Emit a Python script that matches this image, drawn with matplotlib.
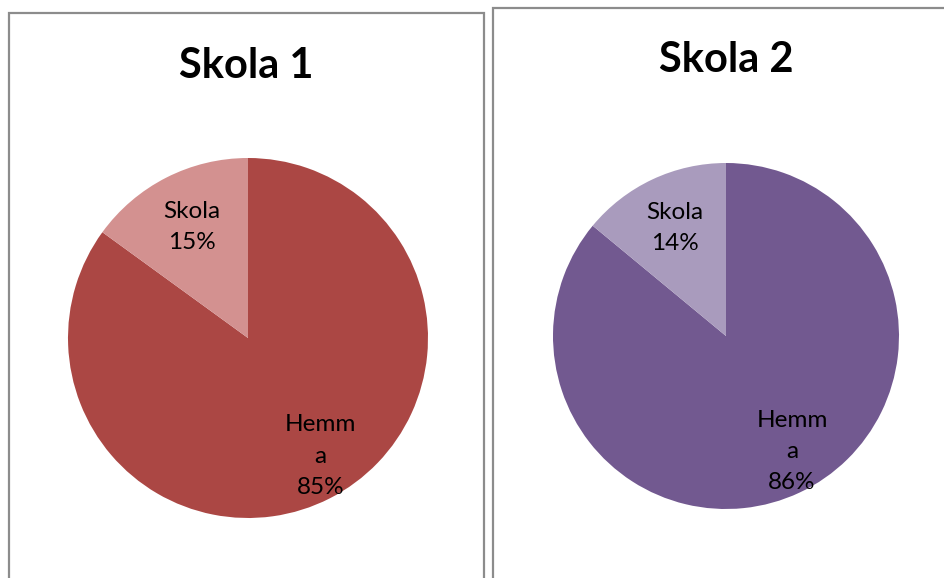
import numpy as np
import matplotlib
matplotlib.use("Agg")
import matplotlib.pyplot as plt
from matplotlib.patches import Rectangle

# data
schools = ["Skola 1", "Skola 2"]
categories = ["Hemma", "Skola"]
share_school1 = [85, 15]
share_school2 = [86, 14]
shares = [share_school1, share_school2]

colors = [["#AB4744", "#D39190"], ["#725990", "#A99BBD"]]

W, H = 944, 578
plt.rcParams['font.family'] = ['Lato', 'DejaVu Sans']

fig = plt.figure(figsize=(W / 100, H / 100), dpi=100)


def fx(px):
    return px / W


def fy(py):
    return 1 - py / H


# panel frames (left, top, right) in pixels
panels = [(9, 13, 484), (493, 8, 960)]
for left, top, right in panels:
    fig.patches.append(Rectangle((fx(left), fy(H + 10)), fx(right - left), fy(top) - fy(H + 10),
                                 transform=fig.transFigure, fill=False,
                                 edgecolor="#8c8c8c", linewidth=1.6))

# partially visible title above the panels (only its descender shows)
fig.text(fx(316), fy(-9), "g", ha="center", va="baseline", fontsize=30,
         fontweight="bold", color="black")

# pie geometry: centre x, centre y, radius (pixels), title centre x, title baseline
geom = [(248, 338, 180, 246, 78), (726, 336, 173, 726, 72)]

for i, school in enumerate(schools):
    cx, cy, r, tx, ty = geom[i]
    ax = fig.add_axes([fx(cx - r), fy(cy + r), fx(2 * r), fy(cy - r) - fy(cy + r)])
    wedges, _ = ax.pie(shares[i], colors=colors[i], startangle=90, counterclock=False,
                       wedgeprops=dict(linewidth=0))
    ax.set_xlim(-1, 1)
    ax.set_ylim(-1, 1)
    ax.set_aspect("equal")
    ax.axis("off")

    # data labels
    for w, cat, val in zip(wedges, categories, shares[i]):
        mid = np.deg2rad((w.theta1 + w.theta2) / 2)
        if cat == "Hemma":
            txt = "Hemm\na\n%d%%" % val
            mid += np.deg2rad(4.5)
            dist = 0.77
        else:
            txt = "%s\n%d%%" % (cat, val)
            dist = 0.69
        ax.text(dist * np.cos(mid), dist * np.sin(mid), txt, ha="center", va="center",
                fontsize=17.5, linespacing=1.6, color="black")

    fig.text(fx(tx), fy(ty), school, ha="center", va="baseline", fontsize=30,
             fontweight="bold", color="black")

fig.savefig("out.png", dpi=100)
